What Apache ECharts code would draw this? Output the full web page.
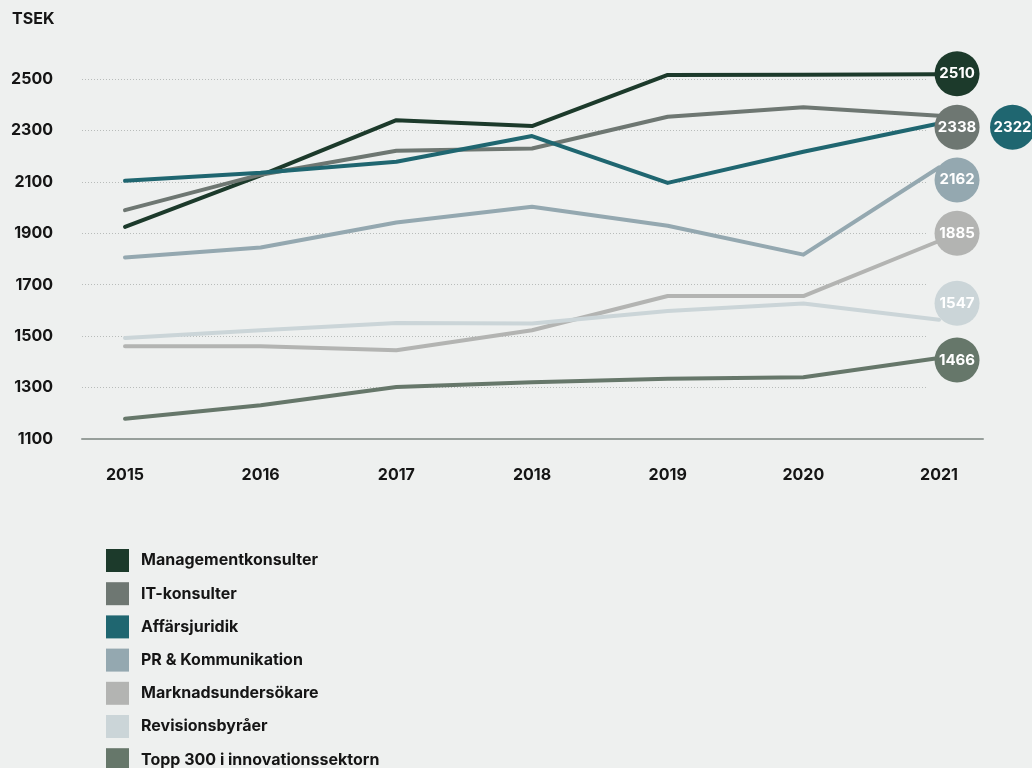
<!DOCTYPE html>
<html>
<head>
<meta charset="utf-8">
<script src="https://cdn.jsdelivr.net/npm/echarts@6/dist/echarts.min.js"></script>
<style>
html,body{margin:0;padding:0;background:#eef0ef;}
#c{width:1032px;height:768px;}
</style>
</head>
<body>
<div id="c"></div>
<script>
const years = [2015, 2016, 2017, 2018, 2019, 2020, 2021];
const yTicks = [1100, 1300, 1500, 1700, 1900, 2100, 2300, 2500];
const seriesNames = ['Managementkonsulter', 'IT-konsulter', 'Affärsjuridik', 'PR & Kommunikation', 'Marknadsundersökare', 'Revisionsbyråer', 'Topp 300 i innovationssektorn'];
const management = [1925, 2125, 2340, 2317, 2516, 2517, 2518];
const itKonsulter = [1990, 2128, 2221, 2230, 2353, 2390, 2357];
const affarsjuridik = [2104, 2135, 2178, 2278, 2096, 2217, 2327];
const prKommunikation = [1806, 1845, 1942, 2003, 1929, 1817, 2156];
const marknad = [1461, 1461, 1445, 1523, 1656, 1656, 1870];
const revision = [1493, 1523, 1551, 1549, 1598, 1627, 1564];
const topp300 = [1179, 1231, 1302, 1321, 1334, 1340, 1415];
const endValues = ['2510', '2338', '2322', '2162', '1885', '1547', '1466'];

const values = [management, itKonsulter, affarsjuridik, prKommunikation, marknad, revision, topp300];
const colors = ['#1c3a2b', '#6e7772', '#1f6670', '#94a8b0', '#b3b4b2', '#cbd5d8', '#66776a'];
const bubbleOffsets = [[18, -0.6], [18, 11.4], [73.5, 3.7], [18, 12.5], [18, -7.7], [18, -16.4], [18, 2]];

const FONT = 'Inter';
const TXT = '#151515';

const chart = echarts.init(document.getElementById('c'), null, {renderer: 'canvas'});

const series = seriesNames.map((name, i) => ({
  name: name,
  type: 'line',
  xAxisIndex: 0,
  yAxisIndex: 0,
  clip: false,
  showSymbol: false,
  symbol: 'none',
  color: colors[i],
  lineStyle: {width: 4, color: colors[i], cap: 'round', join: 'round'},
  data: years.map((y, j) => [y, values[i][j]]),
  endLabel: {
    show: true,
    distance: 0,
    align: 'center',
    verticalAlign: 'middle',
    offset: bubbleOffsets[i],
    formatter: () => endValues[i],
    width: 45,
    height: 45,
    lineHeight: 45,
    borderRadius: 22.5,
    backgroundColor: colors[i],
    color: '#ffffff',
    fontFamily: FONT,
    fontWeight: 700,
    fontSize: 15
  },
  emphasis: {disabled: true}
}));

const option = {
  backgroundColor: '#eef0ef',
  animation: false,
  title: {
    text: 'TSEK',
    left: 12,
    top: 11,
    padding: 0,
    textStyle: {fontFamily: FONT, fontWeight: 700, fontSize: 16, color: TXT}
  },
  legend: {
    orient: 'vertical',
    left: 106,
    top: 549,
    height: 300,
    padding: 0,
    itemWidth: 23,
    itemHeight: 23,
    itemGap: 10.2,
    icon: 'rect',
    selectedMode: false,
    data: seriesNames,
    textStyle: {fontFamily: FONT, fontWeight: 700, fontSize: 16, color: TXT, padding: [0, 0, 0, 7]}
  },
  grid: [
    {left: 82, right: 49, top: 79, bottom: 329},
    {left: 82, right: 105, top: 79, bottom: 329}
  ],
  xAxis: [
    {
      type: 'value',
      gridIndex: 0,
      min: 2014.683,
      max: 2021.324,
      axisLine: {show: true, lineStyle: {color: '#979f9b', width: 2}},
      axisTick: {show: false},
      splitLine: {show: false},
      axisLabel: {
        customValues: years,
        margin: 28,
        formatter: v => String(Math.round(v)),
        fontFamily: FONT, fontWeight: 700, fontSize: 16, color: TXT
      }
    },
    {type: 'value', gridIndex: 1, show: false, min: 0, max: 1}
  ],
  yAxis: [
    {
      type: 'value',
      gridIndex: 0,
      min: 1100,
      max: 2500,
      interval: 200,
      axisLine: {show: false},
      axisTick: {show: false},
      splitLine: {show: false},
      axisLabel: {
        margin: 29,
        formatter: v => (yTicks.indexOf(v) >= 0 ? String(v) : ''),
        fontFamily: FONT, fontWeight: 700, fontSize: 16, color: TXT
      }
    },
    {
      type: 'value',
      gridIndex: 1,
      min: 1100,
      max: 2500,
      interval: 200,
      axisLine: {show: false},
      axisTick: {show: false},
      axisLabel: {show: false},
      splitLine: {show: true, lineStyle: {color: '#b8bcba', width: 1, type: [1, 2]}}
    }
  ],
  series: series
};

chart.setOption(option);
</script>
</body>
</html>
